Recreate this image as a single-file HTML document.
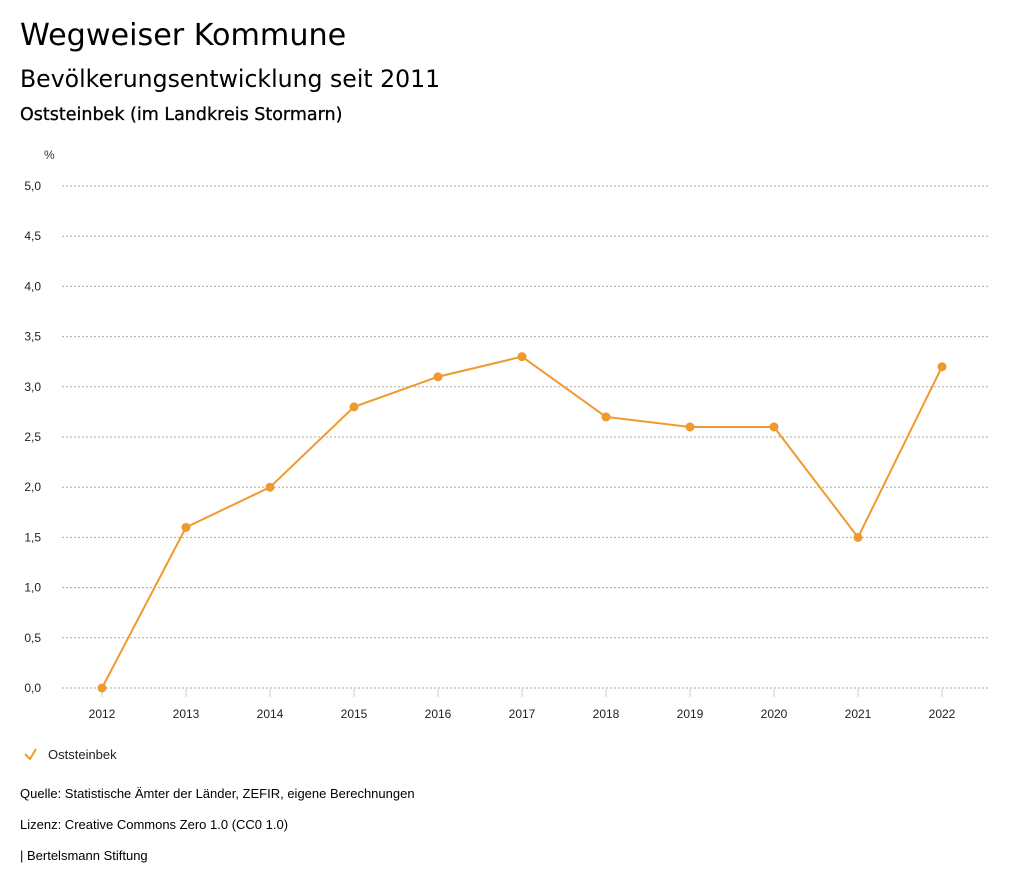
<!DOCTYPE html>
<html><head><meta charset="utf-8"><style>
body{margin:0;width:1024px;height:888px;background:#fff;font-family:"Liberation Sans",sans-serif;color:#000;position:relative;overflow:hidden}
.t{position:absolute;white-space:nowrap}
.d{font-family:"DejaVu Sans",sans-serif}
</style></head><body>
<div class="t d" style="left:20px;top:18px;font-size:30.2px">Wegweiser Kommune</div>
<div class="t d" style="left:20px;top:65px;font-size:23.6px">Bevölkerungsentwicklung seit 2011</div>
<div class="t d" style="left:20px;top:105px;font-size:17.5px;-webkit-text-stroke:0.3px #000">Oststeinbek (im Landkreis Stormarn)</div>
<svg id="c" width="1024" height="888" style="position:absolute;left:0;top:0" font-family="Liberation Sans, sans-serif"></svg>
<div class="t" style="left:20px;top:786px;font-size:13px">Quelle: Statistische Ämter der Länder, ZEFIR, eigene Berechnungen</div>
<div class="t" style="left:20px;top:817px;font-size:13px">Lizenz: Creative Commons Zero 1.0 (CC0 1.0)</div>
<div class="t" style="left:20px;top:848px;font-size:13px">| Bertelsmann Stiftung</div>
<script>
const categories=["2012","2013","2014","2015","2016","2017","2018","2019","2020","2021","2022"];
const values=[0,1.6,2.0,2.8,3.1,3.3,2.7,2.6,2.6,1.5,3.2];
const yTicks=[0,0.5,1,1.5,2,2.5,3,3.5,4,4.5,5];
const yTickLabels=["0,0","0,5","1,0","1,5","2,0","2,5","3,0","3,5","4,0","4,5","5,0"];
const seriesName="Oststeinbek";
const svg=document.getElementById('c');const NS="http://www.w3.org/2000/svg";
function y(v){return 688-v*100.4;}
function x(i){return 102+i*84;}
function mk(t,a,p){const e=document.createElementNS(NS,t);for(const k in a)e.setAttribute(k,a[k]);(p||svg).appendChild(e);return e;}
let e=mk('text',{x:44,y:159,'font-size':12,fill:'#333'});e.textContent='%';


yTicks.forEach((v,i)=>{
 let l=mk('line',{x1:62,x2:990,y1:y(v),y2:y(v),stroke:'#aaa','stroke-dasharray':'2,2','stroke-width':1});
 
 
 let t=mk('text',{x:41,y:y(v)+4,'font-size':12,'text-anchor':'end',fill:'#222'});t.textContent=yTickLabels[i];
 
 
});
categories.forEach((c,i)=>{
 let l=mk('line',{x1:x(i),x2:x(i),y1:689,y2:697,stroke:'#ccc'});
 
 
 let t=mk('text',{x:x(i),y:718,'font-size':12,'text-anchor':'middle',fill:'#222'});t.textContent=c;
 
 
});
let p=mk('polyline',{points:values.map((v,i)=>x(i)+','+y(v)).join(' '),fill:'none',stroke:'#f0992f','stroke-width':2});


values.forEach((v,i)=>{let d=mk('circle',{cx:x(i),cy:y(v),r:4.5,fill:'#f0992f'});
 
 });
let g=mk('g',{});


mk('polyline',{points:'25,754 30,759 36,749',fill:'none',stroke:'#f0992f','stroke-width':2},g);
let lt=mk('text',{x:48,y:759,'font-size':13,fill:'#222'},g);lt.textContent=seriesName;
</script>
</body></html>
